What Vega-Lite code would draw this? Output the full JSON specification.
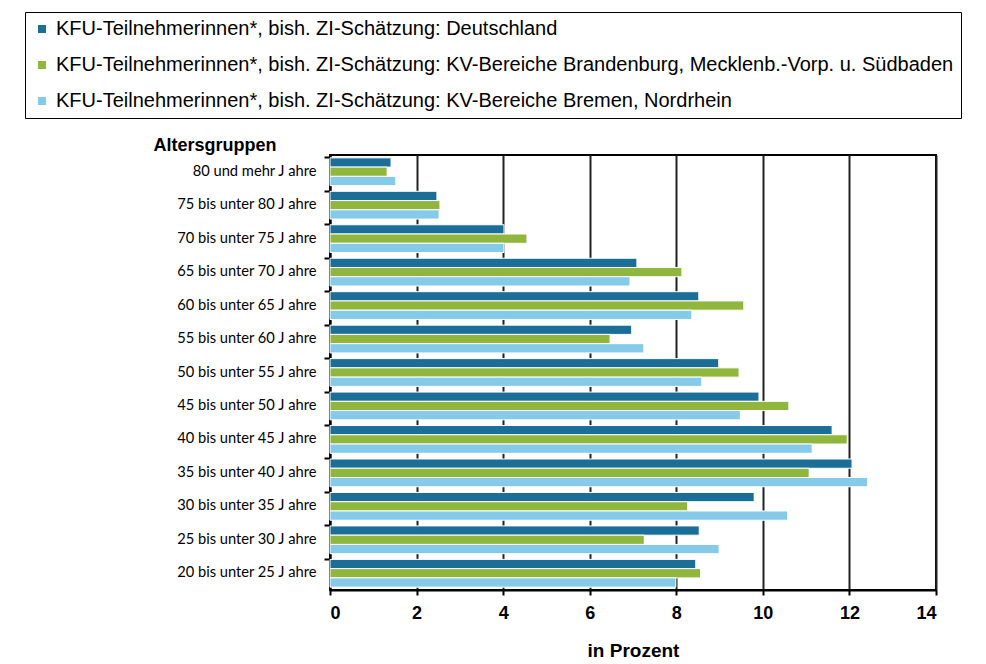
{
  "$schema": "https://vega.github.io/schema/vega-lite/v6.json",
  "width": 606,
  "height": 435,
  "autosize": {"type": "none"},
  "padding": {"left": 330, "top": 155, "right": 50, "bottom": 74},
  "background": "white",
  "config": {
    "view": {"stroke": "black", "strokeWidth": 2},
    "font": "Liberation Sans"
  },
  "data": {
    "values": [
      {"age": "80 und mehr J ahre", "s": "KFU-Teilnehmerinnen*, bish. ZI-Schätzung: Deutschland", "v": 1.41},
      {"age": "80 und mehr J ahre", "s": "KFU-Teilnehmerinnen*, bish. ZI-Schätzung: KV-Bereiche Brandenburg, Mecklenb.-Vorp. u. Südbaden", "v": 1.32},
      {"age": "80 und mehr J ahre", "s": "KFU-Teilnehmerinnen*, bish. ZI-Schätzung: KV-Bereiche Bremen, Nordrhein", "v": 1.52},
      {"age": "75 bis  unter 80 J ahre", "s": "KFU-Teilnehmerinnen*, bish. ZI-Schätzung: Deutschland", "v": 2.47},
      {"age": "75 bis  unter 80 J ahre", "s": "KFU-Teilnehmerinnen*, bish. ZI-Schätzung: KV-Bereiche Brandenburg, Mecklenb.-Vorp. u. Südbaden", "v": 2.54},
      {"age": "75 bis  unter 80 J ahre", "s": "KFU-Teilnehmerinnen*, bish. ZI-Schätzung: KV-Bereiche Bremen, Nordrhein", "v": 2.52},
      {"age": "70 bis  unter 75 J ahre", "s": "KFU-Teilnehmerinnen*, bish. ZI-Schätzung: Deutschland", "v": 4.02},
      {"age": "70 bis  unter 75 J ahre", "s": "KFU-Teilnehmerinnen*, bish. ZI-Schätzung: KV-Bereiche Brandenburg, Mecklenb.-Vorp. u. Südbaden", "v": 4.55},
      {"age": "70 bis  unter 75 J ahre", "s": "KFU-Teilnehmerinnen*, bish. ZI-Schätzung: KV-Bereiche Bremen, Nordrhein", "v": 4.02},
      {"age": "65 bis  unter 70 J ahre", "s": "KFU-Teilnehmerinnen*, bish. ZI-Schätzung: Deutschland", "v": 7.09},
      {"age": "65 bis  unter 70 J ahre", "s": "KFU-Teilnehmerinnen*, bish. ZI-Schätzung: KV-Bereiche Brandenburg, Mecklenb.-Vorp. u. Südbaden", "v": 8.13},
      {"age": "65 bis  unter 70 J ahre", "s": "KFU-Teilnehmerinnen*, bish. ZI-Schätzung: KV-Bereiche Bremen, Nordrhein", "v": 6.93},
      {"age": "60 bis  unter 65 J ahre", "s": "KFU-Teilnehmerinnen*, bish. ZI-Schätzung: Deutschland", "v": 8.52},
      {"age": "60 bis  unter 65 J ahre", "s": "KFU-Teilnehmerinnen*, bish. ZI-Schätzung: KV-Bereiche Brandenburg, Mecklenb.-Vorp. u. Südbaden", "v": 9.56},
      {"age": "60 bis  unter 65 J ahre", "s": "KFU-Teilnehmerinnen*, bish. ZI-Schätzung: KV-Bereiche Bremen, Nordrhein", "v": 8.36},
      {"age": "55 bis  unter 60 J ahre", "s": "KFU-Teilnehmerinnen*, bish. ZI-Schätzung: Deutschland", "v": 6.97},
      {"age": "55 bis  unter 60 J ahre", "s": "KFU-Teilnehmerinnen*, bish. ZI-Schätzung: KV-Bereiche Brandenburg, Mecklenb.-Vorp. u. Südbaden", "v": 6.47},
      {"age": "55 bis  unter 60 J ahre", "s": "KFU-Teilnehmerinnen*, bish. ZI-Schätzung: KV-Bereiche Bremen, Nordrhein", "v": 7.25},
      {"age": "50 bis  unter 55 J ahre", "s": "KFU-Teilnehmerinnen*, bish. ZI-Schätzung: Deutschland", "v": 8.98},
      {"age": "50 bis  unter 55 J ahre", "s": "KFU-Teilnehmerinnen*, bish. ZI-Schätzung: KV-Bereiche Brandenburg, Mecklenb.-Vorp. u. Südbaden", "v": 9.45},
      {"age": "50 bis  unter 55 J ahre", "s": "KFU-Teilnehmerinnen*, bish. ZI-Schätzung: KV-Bereiche Bremen, Nordrhein", "v": 8.59},
      {"age": "45 bis  unter 50 J ahre", "s": "KFU-Teilnehmerinnen*, bish. ZI-Schätzung: Deutschland", "v": 9.91},
      {"age": "45 bis  unter 50 J ahre", "s": "KFU-Teilnehmerinnen*, bish. ZI-Schätzung: KV-Bereiche Brandenburg, Mecklenb.-Vorp. u. Südbaden", "v": 10.6},
      {"age": "45 bis  unter 50 J ahre", "s": "KFU-Teilnehmerinnen*, bish. ZI-Schätzung: KV-Bereiche Bremen, Nordrhein", "v": 9.48},
      {"age": "40 bis  unter 45 J ahre", "s": "KFU-Teilnehmerinnen*, bish. ZI-Schätzung: Deutschland", "v": 11.6},
      {"age": "40 bis  unter 45 J ahre", "s": "KFU-Teilnehmerinnen*, bish. ZI-Schätzung: KV-Bereiche Brandenburg, Mecklenb.-Vorp. u. Südbaden", "v": 11.95},
      {"age": "40 bis  unter 45 J ahre", "s": "KFU-Teilnehmerinnen*, bish. ZI-Schätzung: KV-Bereiche Bremen, Nordrhein", "v": 11.14},
      {"age": "35 bis  unter 40 J ahre", "s": "KFU-Teilnehmerinnen*, bish. ZI-Schätzung: Deutschland", "v": 12.06},
      {"age": "35 bis  unter 40 J ahre", "s": "KFU-Teilnehmerinnen*, bish. ZI-Schätzung: KV-Bereiche Brandenburg, Mecklenb.-Vorp. u. Südbaden", "v": 11.07},
      {"age": "35 bis  unter 40 J ahre", "s": "KFU-Teilnehmerinnen*, bish. ZI-Schätzung: KV-Bereiche Bremen, Nordrhein", "v": 12.42},
      {"age": "30 bis  unter 35 J ahre", "s": "KFU-Teilnehmerinnen*, bish. ZI-Schätzung: Deutschland", "v": 9.8},
      {"age": "30 bis  unter 35 J ahre", "s": "KFU-Teilnehmerinnen*, bish. ZI-Schätzung: KV-Bereiche Brandenburg, Mecklenb.-Vorp. u. Südbaden", "v": 8.26},
      {"age": "30 bis  unter 35 J ahre", "s": "KFU-Teilnehmerinnen*, bish. ZI-Schätzung: KV-Bereiche Bremen, Nordrhein", "v": 10.57},
      {"age": "25 bis  unter 30 J ahre", "s": "KFU-Teilnehmerinnen*, bish. ZI-Schätzung: Deutschland", "v": 8.53},
      {"age": "25 bis  unter 30 J ahre", "s": "KFU-Teilnehmerinnen*, bish. ZI-Schätzung: KV-Bereiche Brandenburg, Mecklenb.-Vorp. u. Südbaden", "v": 7.26},
      {"age": "25 bis  unter 30 J ahre", "s": "KFU-Teilnehmerinnen*, bish. ZI-Schätzung: KV-Bereiche Bremen, Nordrhein", "v": 8.99},
      {"age": "20 bis  unter 25 J ahre", "s": "KFU-Teilnehmerinnen*, bish. ZI-Schätzung: Deutschland", "v": 8.45},
      {"age": "20 bis  unter 25 J ahre", "s": "KFU-Teilnehmerinnen*, bish. ZI-Schätzung: KV-Bereiche Brandenburg, Mecklenb.-Vorp. u. Südbaden", "v": 8.56},
      {"age": "20 bis  unter 25 J ahre", "s": "KFU-Teilnehmerinnen*, bish. ZI-Schätzung: KV-Bereiche Bremen, Nordrhein", "v": 7.99}
    ]
  },
  "mark": {"type": "bar", "stroke": "white", "strokeWidth": 1},
  "encoding": {
    "y": {
      "field": "age",
      "type": "nominal",
      "sort": null,
      "scale": {"paddingInner": 0.17, "paddingOuter": 0.085},
      "axis": {
        "title": "Altersgruppen",
        "titleAngle": 0,
        "titleAlign": "left",
        "titleBaseline": "middle",
        "titleX": -177,
        "titleY": -10,
        "titleFont": "Liberation Sans",
        "titleFontSize": 18,
        "titleFontWeight": "bold",
        "titleColor": "black",
        "labelFont": "Lato",
        "labelFontSize": 14.7,
        "labelColor": "black",
        "labelPadding": 8,
        "bandPosition": 0,
        "tickColor": "black",
        "tickWidth": 2,
        "tickSize": 6,
        "domainColor": "black",
        "domainWidth": 2,
        "grid": false,
        "labelLimit": 300
      }
    },
    "yOffset": {
      "field": "s",
      "type": "nominal",
      "sort": null,
      "scale": {"paddingInner": 0, "paddingOuter": 0}
    },
    "x": {
      "field": "v",
      "type": "quantitative",
      "scale": {"domain": [0, 14], "nice": false},
      "axis": {
        "title": "in Prozent",
        "values": [0, 2, 4, 6, 8, 10, 12, 14],
        "titleFont": "Liberation Sans",
        "titleFontSize": 19,
        "titleFontWeight": "bold",
        "titleColor": "black",
        "titlePadding": 19,
        "labelFont": "Liberation Sans",
        "labelFontSize": 18,
        "labelFontWeight": "bold",
        "labelColor": "black",
        "labelPadding": 9,
        "tickColor": "black",
        "tickWidth": 2,
        "tickSize": 5,
        "domainColor": "black",
        "domainWidth": 2,
        "grid": true,
        "gridColor": "#222222",
        "gridWidth": 2,
        "gridOpacity": 1
      }
    },
    "color": {
      "field": "s",
      "type": "nominal",
      "sort": null,
      "scale": {"range": ["#1b6e98", "#91b63e", "#86caea"]},
      "legend": {
        "title": null,
        "orient": "none",
        "legendX": -305,
        "legendY": -143,
        "direction": "vertical",
        "strokeColor": "black",
        "padding": 7,
        "symbolType": "square",
        "symbolSize": 64,
        "symbolStrokeWidth": 0,
        "labelFont": "Liberation Sans",
        "labelFontSize": 20,
        "labelColor": "black",
        "labelLimit": 1000,
        "labelOffset": 4,
        "rowPadding": 16
      }
    }
  }
}
